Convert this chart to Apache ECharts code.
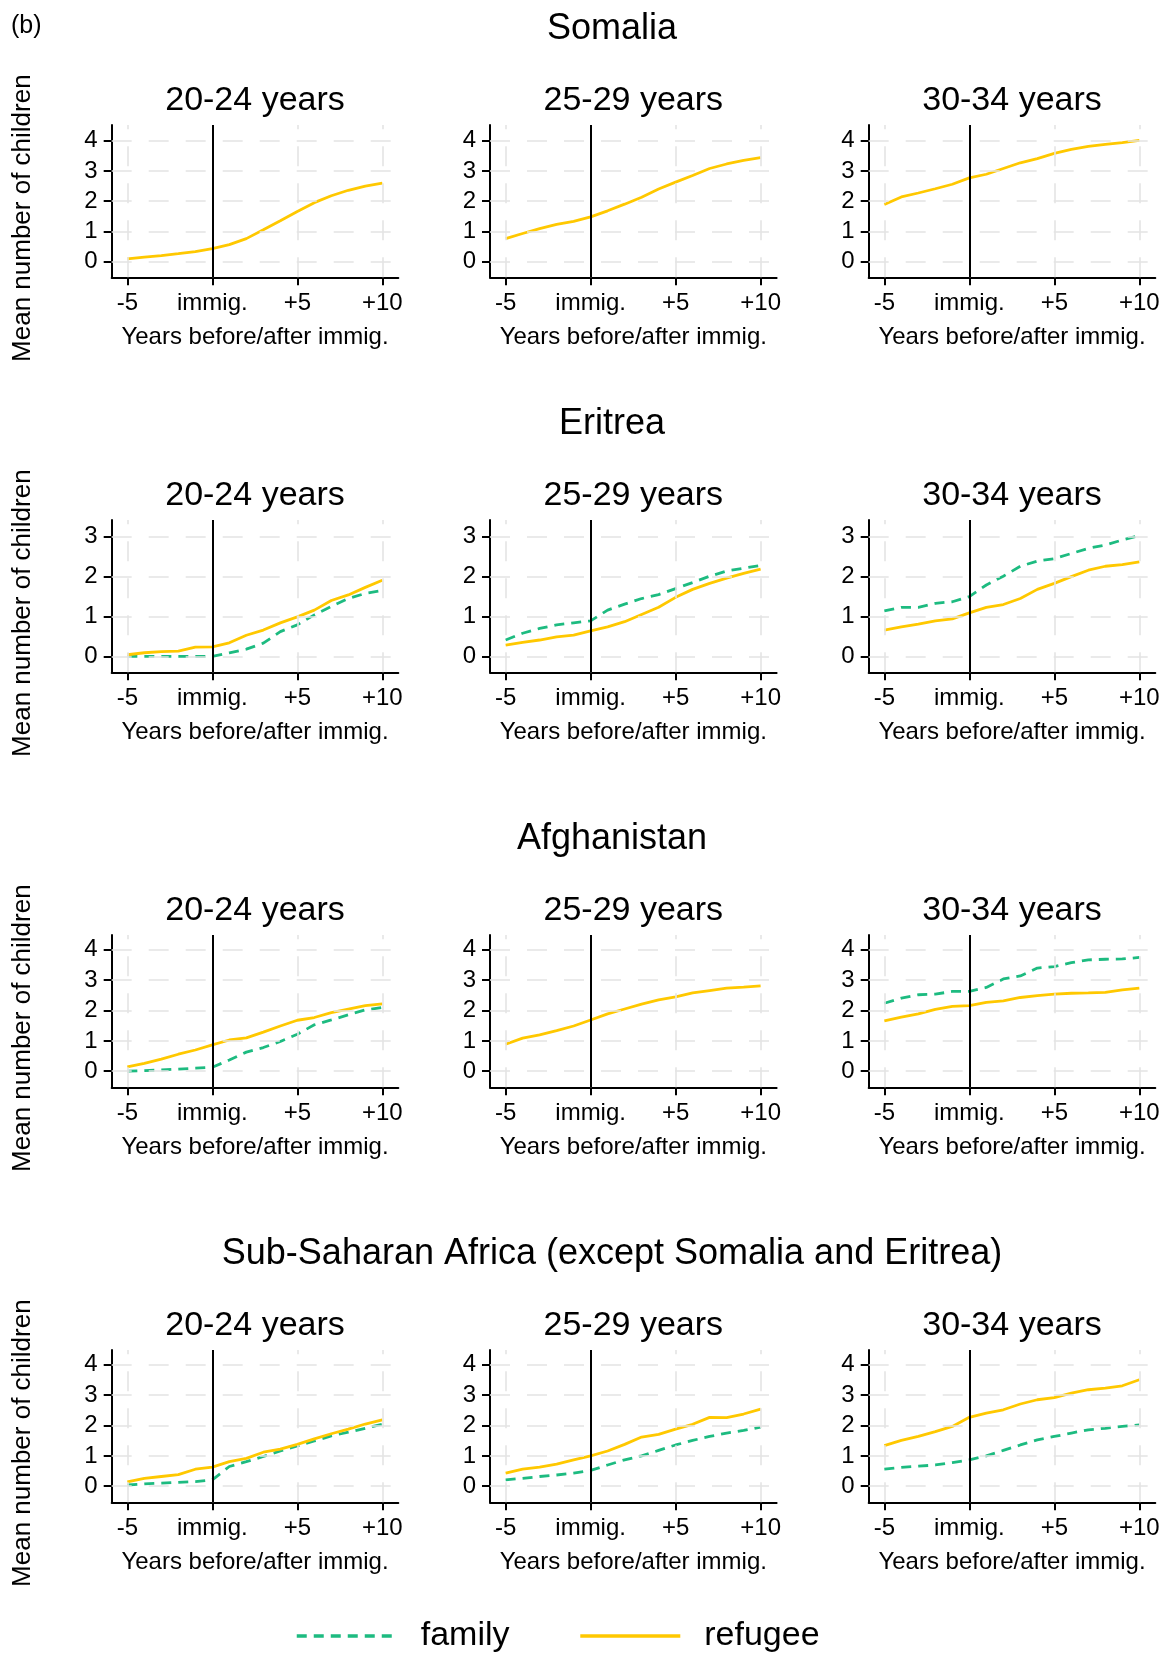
<!DOCTYPE html>
<html><head><meta charset="utf-8">
<script src="https://cdn.jsdelivr.net/npm/echarts@6/dist/echarts.min.js"></script>
<style>html,body{margin:0;padding:0;background:#fff}#c{width:1164px;height:1653px}</style>
</head><body><div id="c"></div>
<script>
// ---------- DATA ----------
const years = [-5,-4,-3,-2,-1,0,1,2,3,4,5,6,7,8,9,10];
const xTickValues = [-5,0,5,10];
const xTickLabels = ['-5','immig.','+5','+10'];
const rowTitles = ['Somalia','Eritrea','Afghanistan','Sub-Saharan Africa (except Somalia and Eritrea)'];
const panelTitles = ['20-24 years','25-29 years','30-34 years'];
const yTicksByRow = [[0,1,2,3,4],[0,1,2,3],[0,1,2,3,4],[0,1,2,3,4]];
const legendNames = ['family','refugee'];

// Somalia
const som20Refugee = [0.09,0.15,0.20,0.26,0.33,0.43,0.56,0.76,1.05,1.35,1.66,1.95,2.18,2.36,2.50,2.60];
const som25Refugee = [0.76,0.93,1.09,1.23,1.33,1.48,1.68,1.90,2.13,2.40,2.63,2.85,3.08,3.23,3.35,3.44];
const som30Refugee = [1.89,2.14,2.27,2.41,2.56,2.77,2.89,3.08,3.27,3.41,3.58,3.71,3.81,3.88,3.94,4.01];
// Eritrea
const eri20Refugee = [0.04,0.09,0.12,0.13,0.23,0.24,0.34,0.53,0.66,0.84,0.99,1.16,1.40,1.54,1.73,1.91];
const eri20Family  = [0,0,0,0,0,0,0.09,0.18,0.33,0.62,0.79,1.04,1.25,1.45,1.58,1.65];
const eri25Refugee = [0.28,0.35,0.41,0.49,0.53,0.64,0.74,0.87,1.05,1.23,1.48,1.68,1.83,1.96,2.08,2.19];
const eri25Family  = [0.41,0.58,0.70,0.79,0.84,0.89,1.16,1.31,1.45,1.55,1.70,1.85,2.01,2.14,2.21,2.28];
const eri30Refugee = [0.66,0.74,0.81,0.89,0.94,1.09,1.23,1.30,1.45,1.68,1.83,2.00,2.16,2.26,2.30,2.37];
const eri30Family  = [1.14,1.23,1.23,1.33,1.37,1.50,1.79,2.01,2.26,2.39,2.45,2.58,2.71,2.79,2.92,3.03];
// Afghanistan
const afg20Refugee = [0.14,0.26,0.40,0.56,0.70,0.87,1.03,1.10,1.29,1.49,1.68,1.77,1.93,2.05,2.16,2.22];
const afg20Family  = [0.00,0.02,0.04,0.07,0.10,0.13,0.37,0.63,0.78,0.98,1.22,1.53,1.69,1.86,2.02,2.10];
const afg25Refugee = [0.89,1.09,1.20,1.34,1.49,1.69,1.89,2.05,2.21,2.35,2.45,2.58,2.66,2.74,2.77,2.81];
const afg30Refugee = [1.66,1.78,1.89,2.04,2.14,2.16,2.27,2.32,2.43,2.49,2.54,2.57,2.58,2.60,2.68,2.74];
const afg30Family  = [2.24,2.41,2.52,2.54,2.63,2.63,2.76,3.04,3.14,3.40,3.45,3.58,3.67,3.69,3.70,3.75];
// Sub-Saharan Africa
const ssa20Refugee = [0.14,0.26,0.32,0.38,0.56,0.63,0.81,0.92,1.12,1.22,1.38,1.56,1.73,1.88,2.05,2.19];
const ssa20Family  = [0.04,0.08,0.10,0.13,0.15,0.21,0.65,0.81,0.98,1.16,1.33,1.49,1.66,1.78,1.91,2.04];
const ssa25Refugee = [0.43,0.56,0.63,0.73,0.87,1.00,1.16,1.38,1.62,1.71,1.88,2.04,2.27,2.26,2.38,2.54];
const ssa25Family  = [0.21,0.26,0.32,0.37,0.43,0.52,0.70,0.87,1.00,1.18,1.36,1.51,1.64,1.75,1.84,1.95];
const ssa30Refugee = [1.34,1.51,1.64,1.80,1.97,2.27,2.41,2.52,2.71,2.85,2.92,3.07,3.18,3.23,3.31,3.51];
const ssa30Family  = [0.56,0.62,0.66,0.70,0.78,0.87,1.00,1.18,1.36,1.53,1.64,1.75,1.86,1.91,1.97,2.02];

const panelData = [
  [[null, som20Refugee],[null, som25Refugee],[null, som30Refugee]],
  [[eri20Family, eri20Refugee],[eri25Family, eri25Refugee],[eri30Family, eri30Refugee]],
  [[afg20Family, afg20Refugee],[null, afg25Refugee],[afg30Family, afg30Refugee]],
  [[ssa20Family, ssa20Refugee],[ssa25Family, ssa25Refugee],[ssa30Family, ssa30Refugee]]
];

// ---------- LAYOUT / STYLE ----------
const FONT = "'Liberation Sans', Arial, Helvetica, sans-serif";
const gridLefts = [111.7, 490, 868.7];
const gridW = 286.6;
const gridTops = [125, 520, 935, 1350];
const gridH = 152.3;
const xRange = [-5.92, 10.94];
const yRanges = [[-0.52,4.52],[-0.40,3.42],[-0.53,4.49],[-0.53,4.49]];
const GREEN = '#1dbb80';
const YELLOW = '#ffc800';
const GRID_GRAY = '#e4e4e4';

const grids = [], xAxes = [], yAxes = [], series = [], graphics = [];
let idx = 0;
for (let r = 0; r < 4; r++) {
  graphics.push({type:'text', x:612, y:gridTops[r]-95.5,
    style:{text:rowTitles[r], fontSize:36, fontFamily:FONT, fill:'#000', align:'center', verticalAlign:'middle'}});
  graphics.push({type:'text', x:23, y:gridTops[r]+gridH/2+17, rotation:Math.PI/2,
    style:{text:'Mean number of children', fontSize:26, fontFamily:FONT, fill:'#000', align:'center', verticalAlign:'middle'}});
  for (let c = 0; c < 3; c++) {
    const yTicks = yTicksByRow[r];
    grids.push({left:gridLefts[c], top:gridTops[r], width:gridW, height:gridH, containLabel:false});
    graphics.push({type:'text', x:gridLefts[c]+gridW/2, y:gridTops[r]-24,
      style:{text:panelTitles[c], fontSize:34, fontFamily:FONT, fill:'#000', align:'center', verticalAlign:'middle'}});
    xAxes.push({
      gridIndex:idx, type:'value', min:xRange[0], max:xRange[1],
      axisLine:{show:true, onZero:false, lineStyle:{color:'#000', width:2}},
      axisTick:{show:true, customValues:xTickValues, length:8, lineStyle:{color:'#000', width:2}},
      axisLabel:{show:true, customValues:xTickValues, margin:14, fontSize:24, color:'#000', fontFamily:FONT,
        formatter:v => { const k = xTickValues.indexOf(Math.round(v)); return k >= 0 ? xTickLabels[k] : ''; }},
      splitLine:{show:false},
      name:'Years before/after immig.', nameLocation:'middle', nameGap:48,
      nameTextStyle:{fontSize:24, color:'#000', fontFamily:FONT}
    });
    yAxes.push({
      gridIndex:idx, type:'value', min:yRanges[r][0], max:yRanges[r][1],
      axisLine:{show:true, onZero:false, lineStyle:{color:'#000', width:2}},
      axisTick:{show:true, customValues:yTicks, length:8, lineStyle:{color:'#000', width:2}},
      axisLabel:{show:true, customValues:yTicks, margin:14, fontSize:24, color:'#000', fontFamily:FONT,
        formatter:v => String(Math.round(v))},
      splitLine:{show:false}
    });
    // gridlines
    series.push({type:'line', xAxisIndex:idx, yAxisIndex:idx, data:[], silent:true, z:1,
      markLine:{silent:true, symbol:['none','none'], label:{show:false}, animation:false,
        lineStyle:{color:GRID_GRAY, width:1.6, type:[20,17]},
        data:[...xTickValues.map(v => ({xAxis:v})), ...yTicks.map(v => ({yAxis:v}))]}});
    // immigration line
    series.push({type:'line', xAxisIndex:idx, yAxisIndex:idx, data:[], silent:true, z:2,
      markLine:{silent:true, symbol:['none','none'], label:{show:false}, animation:false,
        lineStyle:{color:'#000', width:2, type:'solid'}, data:[{xAxis:0}]}});
    const [fam, ref] = panelData[r][c];
    if (fam) {
      series.push({name:'family', type:'line', xAxisIndex:idx, yAxisIndex:idx, z:3,
        data: years.map((x,j) => [x, fam[j]]), symbol:'none', showSymbol:false,
        lineStyle:{color:GREEN, width:2.8, type:[10,7]}, itemStyle:{color:GREEN}});
    }
    series.push({name:'refugee', type:'line', xAxisIndex:idx, yAxisIndex:idx, z:4,
      data: years.map((x,j) => [x, ref[j]]), symbol:'none', showSymbol:false,
      lineStyle:{color:YELLOW, width:2.8}, itemStyle:{color:YELLOW}});
    idx++;
  }
}
graphics.push({type:'text', x:11, y:26,
  style:{text:'(b)', fontSize:25, fontFamily:FONT, fill:'#000', align:'left', verticalAlign:'middle'}});

const chart = echarts.init(document.getElementById('c'));
chart.setOption({
  animation:false,
  backgroundColor:'#fff',
  textStyle:{fontFamily:FONT},
  grid:grids, xAxis:xAxes, yAxis:yAxes, series:series,
  graphic:graphics,
  legend:{data:legendNames, left:290, top:1614, itemWidth:100, itemHeight:14, itemGap:69,
    itemStyle:{opacity:0}, lineStyle:{width:3.5},
    textStyle:{fontSize:34, color:'#000', fontFamily:FONT, padding:[0,0,0,19]}}
});
</script></body></html>
